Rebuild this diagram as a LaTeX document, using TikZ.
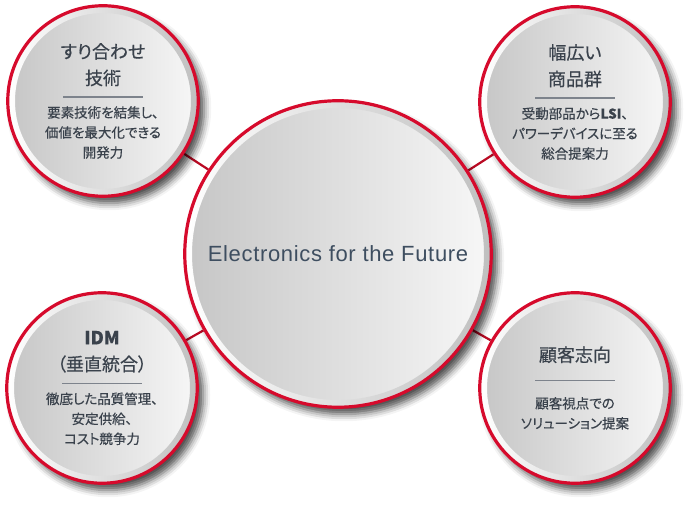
\documentclass[tikz,border=0pt]{standalone}
\usepackage{fontspec}
\setmainfont{Noto Sans CJK JP}[RawFeature=+palt, FakeBold=0.5]
\newfontfamily\latinfont{Liberation Sans}[LetterSpace=3]
\usetikzlibrary{shadows.blur}
\pgfdeclarelayer{background}
\pgfsetlayers{background,main}
\definecolor{ringred}{RGB}{214,10,44}
\definecolor{linkred}{RGB}{185,10,35}
\definecolor{textgray}{RGB}{58,66,76}
\definecolor{hubgray}{RGB}{62,78,96}
\definecolor{rulegray}{RGB}{125,131,140}
\tikzstyle{disc}=[circle, draw=ringred, line width=3.2pt, left color=gray!45,
  right color=white!97!black, inner sep=0pt,
  blur shadow={shadow xshift=6pt, shadow yshift=-7pt, shadow blur radius=7pt,
    shadow opacity=70}]
\tikzstyle{bubble}=[disc, minimum size=190.5pt, text width=130pt, align=center,
  text=textgray, path picture={\bevel{95.25pt}{88pt}}]
\tikzstyle{hub}=[disc, minimum size=306.5pt, text=hubgray,
  font=\latinfont\fontsize{22}{26}\selectfont, path picture={\bevel{153.25pt}{146pt}}]
\tikzstyle{link}=[draw, line width=2.2pt, color=linkred]
% light bevel just inside the red ring
\newcommand{\bevel}[2]{%
  \shade[left color=white, right color=gray!50, even odd rule]
    (path picture bounding box.center) circle (#1) circle (#2);}
% title, short rule, body (optional extra gap round the rule)
\newcommand{\bubbletext}[3][0pt]{%
  {\fontsize{18}{26.5}\selectfont #2\par}
  \nointerlineskip\vskip 10pt \vskip #1
  \hbox to \hsize{\hfil\textcolor{rulegray}{\rule{80pt}{1.4pt}}\hfil}
  \vskip 0pt \vskip #1
  {\fontsize{13.5}{20}\selectfont #3\par}}

\begin{document}
\begin{tikzpicture}[x=1pt,y=1pt]
  \useasboundingbox (0,0) rectangle (699,513);

  % Draw diagram elements
  \path (338,259) node (c) [hub] {Electronics for the Future};

  \path (c)+(-235,153) node (p1) [bubble]
    {\bubbletext{すり合わせ\\技術}{要素技術を結集し、\\価値を最大化できる\\開発力}};
  \path (c)+(237,152) node (p2) [bubble]
    {\bubbletext{幅広い\\商品群}{受動部品から\textbf{LSI}、\\パワーデバイスに至る\\総合提案力}};
  \path (c)+(-236,-134) node (p3) [bubble]
    {\bubbletext{\textbf{IDM}\\（垂直統合）}{徹底した品質管理、\\安定供給、\\コスト競争力}};
  \path (c)+(237,-134) node (p4) [bubble]
    {\bubbletext[7pt]{顧客志向}{顧客視点での\\ソリューション提案}\vskip 24pt};

  % Draw links between elements
  \begin{pgfonlayer}{background}
    \path [link] (p1) -- (c);
    \path [link] (p2) -- (c);
    \path [link] (p3) -- (c);
    \path [link] (p4) -- (c);
  \end{pgfonlayer}
\end{tikzpicture}
\end{document}
